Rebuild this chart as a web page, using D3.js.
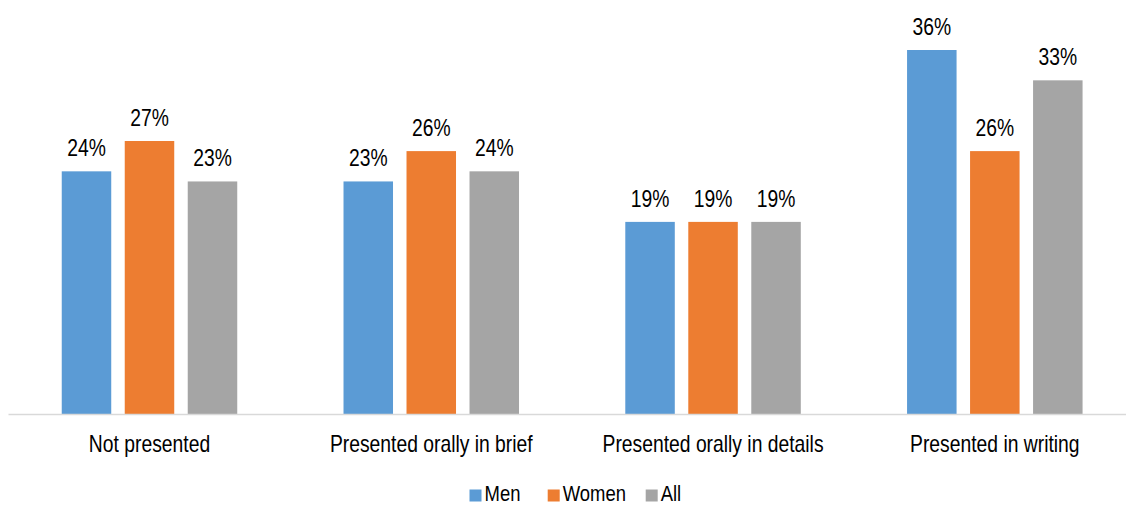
<!DOCTYPE html>
<html>
<head>
<meta charset="utf-8">
<script src="https://cdn.jsdelivr.net/npm/d3@7/dist/d3.min.js"></script>
<style>
  html, body { margin: 0; padding: 0; background: #fff; }
  svg { display: block; }
  text { font-family: "Liberation Sans Narrow", "Arial Narrow", "Liberation Sans", Arial, sans-serif; fill: #000; }
</style>
</head>
<body>
<svg id="chart" width="1126" height="505"></svg>
<script>
const categories = ["Not presented", "Presented orally in brief", "Presented orally in details", "Presented in writing"];
const seriesNames = ["Men", "Women", "All"];
const men = [24, 23, 19, 36];
const women = [27, 26, 19, 26];
const all = [23, 24, 19, 33];
const colors = ["#5B9BD5", "#ED7D31", "#A5A5A5"];

const seriesValues = [men, women, all];
const width = 1126, height = 505;
const margin = { left: 8.6, right: -9.7, top: 50, bottom: 91 };
const baseY = height - margin.bottom;
// condensed lettering: horizontal squeeze applied to every label
const squeeze = 0.84;

const svg = d3.select("#chart");

function narrowText(sel, x, y) {
  return sel.attr("transform", (d, i) => `translate(${x(d, i)},${y(d, i)}) scale(${squeeze},1)`);
}

const x0 = d3.scaleBand()
  .domain(categories)
  .range([margin.left, width - margin.right])
  .paddingInner(0)
  .paddingOuter(0);

const y = d3.scaleLinear()
  .domain([0, 36])
  .range([baseY, margin.top]);

const barW = 49.5, gap = 13.5;
const x1 = d3.scaleOrdinal()
  .domain(seriesNames)
  .range(seriesNames.map((d, i) => (i - 1) * (barW + gap) - barW / 2));

const groups = svg.selectAll("g.group")
  .data(categories)
  .join("g")
  .attr("class", "group")
  .attr("transform", d => `translate(${x0(d) + x0.bandwidth() / 2},0)`);

seriesNames.forEach((name, si) => {
  groups.append("rect")
    .attr("x", x1(name))
    .attr("width", barW)
    .attr("y", (d, ci) => y(seriesValues[si][ci]))
    .attr("height", (d, ci) => baseY - y(seriesValues[si][ci]))
    .attr("fill", colors[si]);

  groups.append("text")
    .call(narrowText, () => x1(name) + barW / 2, (d, ci) => y(seriesValues[si][ci]) - 15)
    .attr("text-anchor", "middle")
    .style("font-size", "23px")
    .text((d, ci) => seriesValues[si][ci] + "%");
});

// category axis
svg.append("line")
  .attr("x1", 8.5).attr("x2", width)
  .attr("y1", baseY + 0.5).attr("y2", baseY + 0.5)
  .attr("stroke", "#D9D9D9").attr("stroke-width", 1.5);

svg.selectAll("text.cat")
  .data(categories)
  .join("text")
  .attr("class", "cat")
  .call(narrowText, d => x0(d) + x0.bandwidth() / 2, () => baseY + 38)
  .attr("text-anchor", "middle")
  .style("font-size", "23px")
  .text(d => d);

// legend
const legendItems = [
  { name: "Men", sx: 469.5 },
  { name: "Women", sx: 547.7 },
  { name: "All", sx: 645.7 }
];
const legend = svg.append("g");
legendItems.forEach((it, i) => {
  legend.append("rect")
    .attr("x", it.sx).attr("y", 489.5)
    .attr("width", 12).attr("height", 12)
    .attr("fill", colors[i]);
  legend.append("text")
    .datum(it)
    .call(narrowText, d => d.sx + 15, () => 500.5)
    .style("font-size", "22px")
    .text(seriesNames[i]);
});
</script>
</body>
</html>
